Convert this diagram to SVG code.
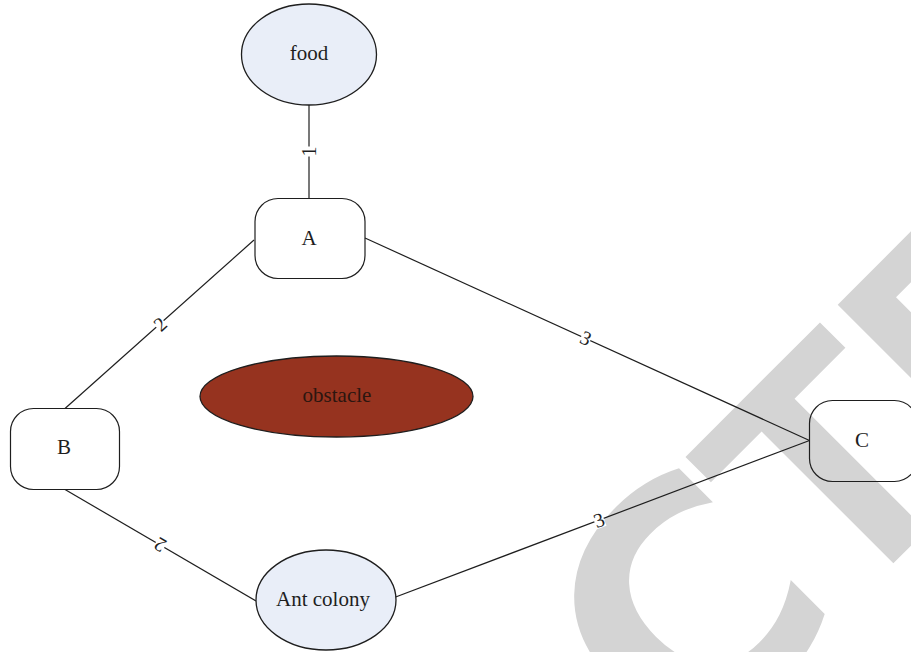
<svg xmlns="http://www.w3.org/2000/svg" width="911" height="652" viewBox="0 0 911 652">
<style>
.wm{font-family:"Liberation Sans",Arial,sans-serif;font-weight:bold;font-size:323px;fill:#d4d4d4}
.wmc{font-family:"DejaVu Sans",sans-serif;font-size:318px}
.edge{stroke:#1e1e1e;stroke-width:1.2;fill:none}
.lblbg{fill:#ffffff}
.lbl{font-family:"Liberation Serif","Times New Roman",serif;font-size:20px;fill:#1e1e1e;text-anchor:middle;dominant-baseline:central}
.box{fill:none;stroke:#1e1e1e;stroke-width:1.2}
.ell{fill:#e9eef8;stroke:#1e1e1e;stroke-width:1.3}
.obs{fill:#96331f;stroke:#1e1e1e;stroke-width:1.3}
.txt{font-family:"Liberation Serif","Times New Roman",serif;font-size:21px;fill:#1e1e1e;text-anchor:middle;dominant-baseline:central}
.obstxt{fill:#2b1610}
</style>
<rect width="911" height="652" fill="#ffffff"/>
<text class="wm" transform="rotate(-45)" y="1030"><tspan class="wmc" x="-64">C</tspan><tspan x="158">TE</tspan></text>
<g id="connectors">
  <line class="edge" x1="309" y1="198" x2="309" y2="105"/>
  <line class="edge" x1="65" y1="408.5" x2="254" y2="240"/>
  <line class="edge" x1="256" y1="601" x2="65" y2="489.5"/>
  <line class="edge" x1="365" y1="238" x2="809.5" y2="440.5"/>
  <line class="edge" x1="393" y1="598" x2="809.5" y2="440.5"/>
  <g transform="translate(309,151.5) rotate(-90)"><rect class="lblbg" x="-5" y="-8" width="10" height="16"/><text class="lbl" x="0" y="0">1</text></g>
  <g transform="translate(160,324) rotate(-41.8)"><rect class="lblbg" x="-5" y="-8" width="10" height="16"/><text class="lbl" x="0" y="0">2</text></g>
  <g transform="translate(160,545) rotate(210.3)"><rect class="lblbg" x="-5" y="-8" width="10" height="16"/><text class="lbl" x="0" y="0">2</text></g>
  <g transform="translate(586,338) rotate(24.6)"><rect class="lblbg" x="-5" y="-8" width="10" height="16"/><text class="lbl" x="0" y="0">3</text></g>
  <g transform="translate(599,520) rotate(-20.7)"><rect class="lblbg" x="-5" y="-8" width="10" height="16"/><text class="lbl" x="0" y="0">3</text></g>
</g>
<g id="food">
  <ellipse class="ell" cx="309" cy="54.5" rx="67.5" ry="50.5"/>
  <text class="txt" x="309" y="53">food</text>
</g>
<g id="A">
  <rect class="box" x="255" y="198.5" width="110" height="80" rx="23" ry="23"/>
  <text class="txt" x="309" y="238">A</text>
</g>
<g id="B">
  <rect class="box" x="10.5" y="408.5" width="109" height="81" rx="23" ry="23"/>
  <text class="txt" x="64" y="447">B</text>
</g>
<g id="C">
  <rect class="box" x="809.5" y="400.5" width="108" height="81" rx="23" ry="23"/>
  <text class="txt" x="862" y="440">C</text>
</g>
<g id="obstacle">
  <ellipse class="obs" cx="336.5" cy="396.5" rx="136.5" ry="40.5"/>
  <text class="txt obstxt" x="337" y="395">obstacle</text>
</g>
<g id="antcolony">
  <ellipse class="ell" cx="326" cy="600" rx="70" ry="50"/>
  <text class="txt" x="323" y="599">Ant colony</text>
</g>
</svg>
